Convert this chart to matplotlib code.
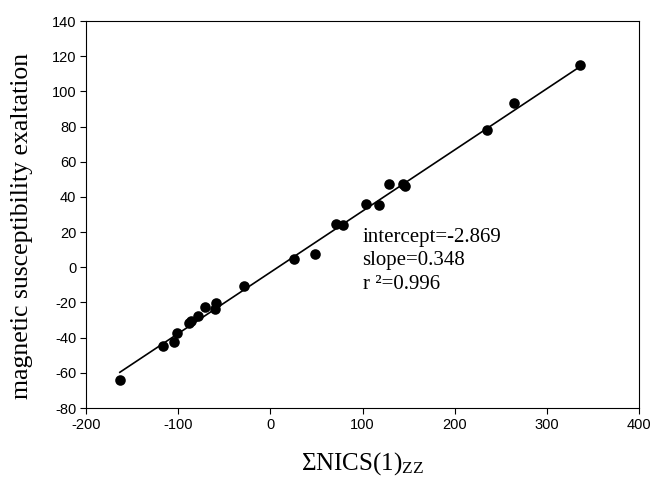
import numpy as np
import matplotlib.pyplot as plt

# data
nics_zz = [-163.3, -116.4, -104.2, -101.8, -88.5, -86.5, -78.4, -70.4, -60.3, -58.5,
           -29.0, 25.2, 48.0, 71.5, 78.7, 103.3, 117.9, 128.5, 144.4, 146.6,
           234.7, 264.6, 336.2]
exaltation = [-64.2, -44.5, -42.5, -37.1, -31.8, -30.8, -27.5, -22.5, -24.0, -20.1,
              -10.5, 4.9, 7.8, 24.8, 24.1, 36.2, 35.5, 47.6, 47.3, 46.4,
              78.3, 93.5, 114.8]

intercept = -2.869
slope = 0.348
r2 = 0.996

x_ticks = [-200, -100, 0, 100, 200, 300, 400]
y_ticks = [-80, -60, -40, -20, 0, 20, 40, 60, 80, 100, 120, 140]

plt.rcParams['font.family'] = ['Liberation Sans', 'DejaVu Sans']
plt.rcParams['axes.unicode_minus'] = False
plt.rcParams['mathtext.fontset'] = 'custom'
plt.rcParams['mathtext.rm'] = 'Liberation Serif'
plt.rcParams['mathtext.it'] = 'Liberation Serif:italic'

fig = plt.figure(figsize=(6.54, 4.83), dpi=100)
ax = fig.add_axes([86 / 654, 1 - 408 / 483, (639 - 86) / 654, (408 - 21) / 483])

ax.scatter(nics_zz, exaltation, s=58, color='black', zorder=3, linewidths=0)
xfit = np.array([min(nics_zz), max(nics_zz)])
ax.plot(xfit, intercept + slope * xfit, color='black', lw=1.2)

ax.set_xlim(x_ticks[0], x_ticks[-1])
ax.set_ylim(y_ticks[0], y_ticks[-1])
ax.set_xticks(x_ticks)
ax.set_yticks(y_ticks)
ax.tick_params(direction='out', length=4, width=0.8, labelsize=10.5, pad=3)
for s in ax.spines.values():
    s.set_linewidth(0.8)

serif = ['Liberation Serif', 'DejaVu Serif']
ax.set_xlabel('\u03a3NICS(1)$_{\\mathrm{ZZ}}$', family=serif, fontsize=18, labelpad=13)
ax.set_ylabel('magnetic susceptibility exaltation', family=serif, fontsize=18.5)
ax.yaxis.set_label_coords(-0.095, 0.47)

ax.text(100, 22.5, 'intercept=%.3f\nslope=%.3f\nr \u00b2=%.3f' % (intercept, slope, r2),
        family=serif, fontsize=15, va='top', ha='left', linespacing=1.32)

fig.savefig('out.png', dpi=100)
